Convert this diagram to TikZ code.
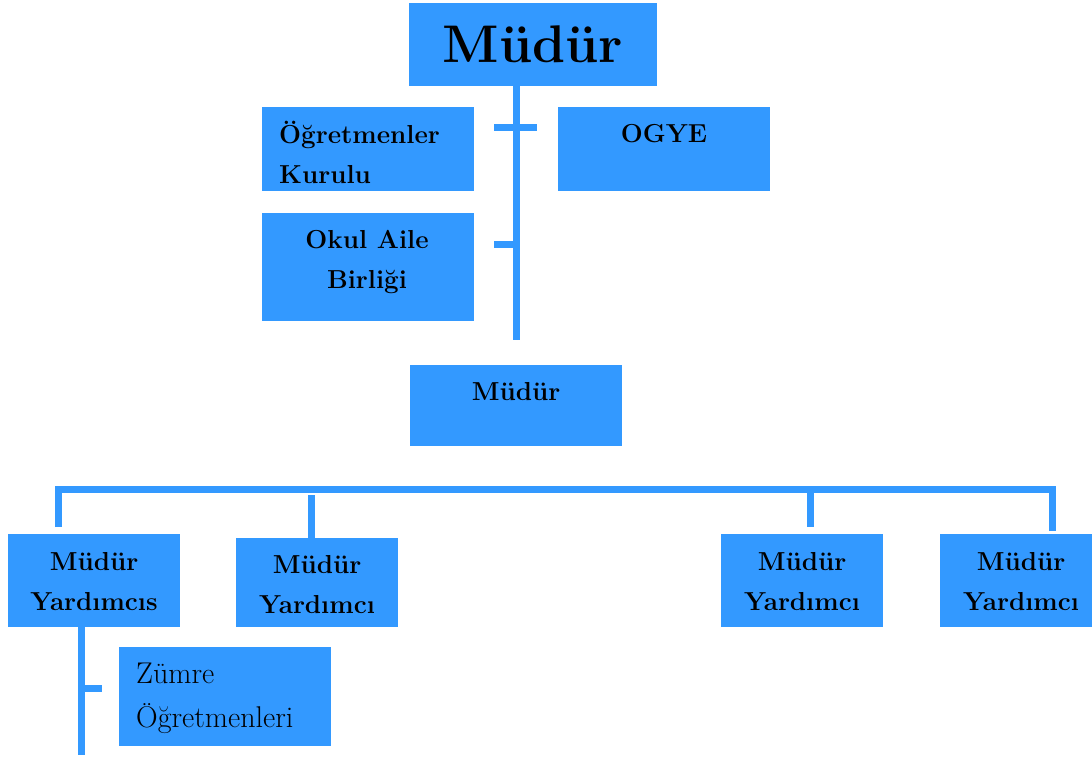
\documentclass[tikz,border=0pt]{standalone}
\usepackage{tikz}
\usetikzlibrary{positioning,calc}
\definecolor{orgblue}{RGB}{51,153,255}
\newcommand \orgbox[5]
{
\node[box, minimum width=#4pt, minimum height=#5pt] (#1) at (#2,#3) {};
}
\begin{document}
\begin{tikzpicture}[x=1pt, y=-1pt, line join=miter,
  box/.style={fill=orgblue, inner sep=0pt, outer sep=0pt},
  lbl/.style={font=\bfseries\fontsize{26}{40}\selectfont, inner sep=0pt, align=center, anchor=north},
  link/.style={draw=orgblue, line width=7pt}]
\useasboundingbox (0,0) rectangle (1092,759);
% boxes: name, centre x, centre y, width, height
\orgbox{mudur}{533}{44.5}{248}{83}
\orgbox{kurul}{368}{149}{212}{84}
\orgbox{ogye}{664}{149}{212}{84}
\orgbox{aile}{368}{267}{212}{108}
\orgbox{mudurb}{516}{405.5}{212}{81}
\orgbox{yrd1}{94}{580.5}{172}{93}
\orgbox{yrd2}{317}{582.5}{162}{89}
\orgbox{yrd3}{802}{580.5}{162}{93}
\orgbox{yrd4}{1021}{580.5}{162}{93}
\orgbox{zumre}{225}{696.5}{212}{99}
% texts
\node[lbl, anchor=base, font=\bfseries\fontsize{53}{60}\selectfont] (mudur-t) at (533,63) {Müdür};
\node[lbl, anchor=north west, align=left] (kurul-t) at (279,115) {\strut Öğretmenler\\Kurulu};
\node[lbl, anchor=base] (ogye-t) at (664,143) {OGYE};
\node[lbl] (aile-t) at (367,220) {\strut Okul Aile\\Birliği};
\node[lbl, anchor=base] (mudurb-t) at (516,400) {Müdür};
\node[lbl] (yrd1-t) at (94,542) {\strut Müdür\\Yardımcıs};
\node[lbl] (yrd2-t) at (317,545) {\strut Müdür\\Yardımcı};
\node[lbl] (yrd3-t) at (802,542) {\strut Müdür\\Yardımcı};
\node[lbl] (yrd4-t) at (1021,542) {\strut Müdür\\Yardımcı};
\node[lbl, anchor=north west, align=left, font=\fontsize{30}{44}\selectfont] (zumre-t) at (136,652.2) {\strut Zümre\\Öğretmenleri};
% connectors
\coordinate (trunk) at (516,340);
\coordinate (t1a) at (494,128);
\coordinate (t1b) at (537,128);
\coordinate (t2) at (494,245);
\draw[link] (mudur.south -| trunk) -- (trunk);
\draw[link] (t1a) -- (t1b);
\draw[link] (t2) -- (t2 -| trunk);
\coordinate (busL) at (58,489);
\coordinate (busR) at (1052,489);
\coordinate (drop3) at (810.5,489);
\draw[link] ($(busL |- yrd1.north)+(0,-7)$) -- (busL) -- (busR) -- ($(busR |- yrd4.north)+(0,-3)$);
\draw[link] ($(yrd2.north)+(-5.5,0)$) -- ++(0,-43);
\draw[link] (drop3) -- ++(0,38);
\coordinate (sub) at (81,755);
\coordinate (t3) at (102,688);
\draw[link] (yrd1.south -| sub) -- (sub);
\draw[link] (t3 -| sub) -- (t3);
\end{tikzpicture}
\end{document}
